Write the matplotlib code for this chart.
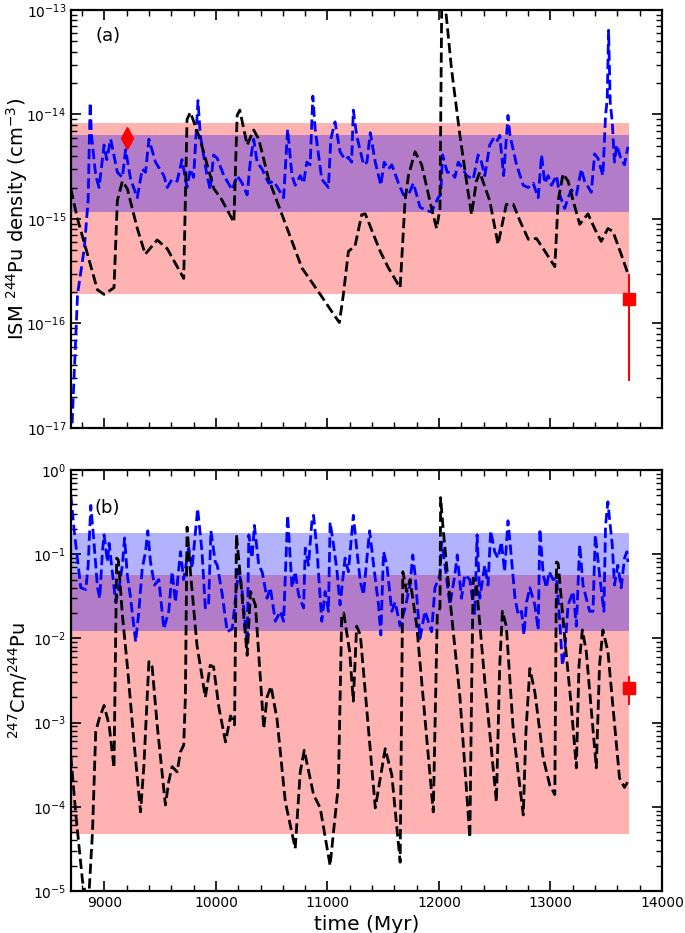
import matplotlib
matplotlib.use('Agg')
import matplotlib.pyplot as plt
from matplotlib.ticker import MultipleLocator, LogLocator, NullFormatter

# ---- panel (a): ISM 244Pu density ----
black_a_t = [8699, 8759, 8848, 8937, 8997, 9086, 9116, 9161, 9205, 9295, 9366, 9473,
             9563, 9711, 9741, 9771, 9857, 9982, 10042, 10161, 10190, 10214, 10280,
             10339, 10384, 10473, 10607, 10771, 10935, 11054, 11107, 11143, 11188,
             11247, 11307, 11339, 11473, 11547, 11652, 11696, 11726, 11786, 11845,
             11934, 11979, 12009, 12030, 12063, 12113, 12188, 12247, 12292, 12336,
             12366, 12455, 12530, 12604, 12667, 12726, 12801, 12875, 12935, 13039,
             13069, 13113, 13158, 13203, 13262, 13336, 13396, 13455, 13515, 13560,
             13634, 13694]
black_a = [1.94e-15, 1.0e-15, 4.6e-16, 2.1e-16, 1.9e-16, 2.2e-16, 1.5e-15, 2.3e-15,
           1.95e-15, 8.1e-16, 4.6e-16, 6.3e-16, 5.2e-16, 2.7e-16, 9.0e-15, 1.05e-14,
           5.8e-15, 1.94e-15, 1.6e-15, 9.3e-16, 9.8e-15, 1.1e-14, 5.1e-15, 7.1e-15,
           5.8e-15, 2.4e-15, 1.0e-15, 3.4e-16, 1.9e-16, 1.23e-16, 1.02e-16, 1.9e-16,
           4.9e-16, 5.5e-16, 1.1e-15, 1.12e-15, 4.9e-16, 3.4e-16, 2.2e-16, 1.5e-15,
           2.6e-15, 4.4e-15, 3.3e-15, 1.26e-15, 8.1e-16, 1.26e-15, 5e-13, 9.4e-14,
           2.7e-14, 6.3e-15, 2.3e-15, 1.1e-15, 2.3e-15, 2.8e-15, 1.5e-15, 5.7e-16,
           1.38e-15, 1.38e-15, 9.6e-16, 6.4e-16, 6.5e-16, 5.2e-16, 3.5e-16, 1.5e-15,
           2.7e-15, 2.3e-15, 1.5e-15, 8.9e-16, 1.12e-15, 8.1e-16, 6.1e-16, 8.1e-16,
           7.6e-16, 4.6e-16, 3.0e-16]

blue_a_t = [8705, 8759, 8819, 8854, 8872, 8884, 8922, 8952, 8997, 9021, 9056, 9116,
            9161, 9190, 9235, 9295, 9339, 9369, 9399, 9458, 9533, 9563, 9607, 9652,
            9696, 9741, 9771, 9800, 9839, 9860, 9920, 9949, 9979, 10012, 10071, 10146,
            10190, 10235, 10280, 10310, 10339, 10369, 10414, 10473, 10518, 10607,
            10643, 10682, 10711, 10756, 10786, 10815, 10845, 10869, 10890, 10949,
            11009, 11030, 11068, 11113, 11158, 11188, 11217, 11232, 11262, 11324,
            11354, 11384, 11429, 11479, 11509, 11547, 11577, 11637, 11682, 11726,
            11771, 11830, 11890, 11934, 11993, 12015, 12033, 12074, 12113, 12143,
            12173, 12217, 12247, 12307, 12351, 12381, 12411, 12455, 12485, 12515,
            12545, 12580, 12619, 12637, 12696, 12756, 12801, 12845, 12890, 12920,
            12949, 12979, 13009, 13054, 13083, 13128, 13158, 13188, 13232, 13277,
            13306, 13366, 13396, 13426, 13470, 13494, 13509, 13521, 13536, 13554,
            13574, 13595, 13634, 13664, 13694]
blue_a = [8e-18, 1.9e-16, 5.2e-16, 1.5e-15, 1.3e-14, 6.3e-15, 2.6e-15, 2.0e-15, 5.1e-15,
          3.7e-15, 5.8e-15, 2.8e-15, 2.5e-15, 4.6e-15, 2.4e-15, 1.6e-15, 3.0e-15,
          2.8e-15, 5.8e-15, 3.5e-15, 2.6e-15, 2.0e-15, 2.4e-15, 2.3e-15, 3.7e-15,
          2.0e-15, 3.0e-15, 2.5e-15, 1.36e-14, 6.3e-15, 2.6e-15, 1.9e-15, 4.1e-15,
          3.8e-15, 2.6e-15, 1.9e-15, 2.6e-15, 2.2e-15, 1.7e-15, 3.7e-15, 5.8e-15,
          3.5e-15, 3.0e-15, 2.2e-15, 2.3e-15, 1.6e-15, 7.2e-15, 2.6e-15, 2.1e-15,
          2.6e-15, 2.2e-15, 3.5e-15, 3.3e-15, 1.5e-14, 7.2e-15, 2.4e-15, 2.0e-15,
          5.8e-15, 8.5e-15, 4.4e-15, 3.7e-15, 3.9e-15, 3.5e-15, 1.1e-14, 6.3e-15,
          3.3e-15, 3.5e-15, 6.7e-15, 3.5e-15, 2.1e-15, 3.5e-15, 3.0e-15, 3.3e-15,
          2.2e-15, 1.7e-15, 1.7e-15, 2.2e-15, 1.3e-15, 1.2e-15, 1.17e-15, 1.6e-15,
          1.7e-15, 4.1e-15, 2.8e-15, 2.8e-15, 2.5e-15, 3.5e-15, 3.0e-15, 2.6e-15,
          2.4e-15, 4.1e-15, 3.5e-15, 2.6e-15, 5.1e-15, 5.8e-15, 5.4e-15, 6.3e-15,
          2.6e-15, 9.8e-15, 6.3e-15, 3.3e-15, 2.1e-15, 2.0e-15, 2.2e-15, 1.6e-15,
          4.1e-15, 2.2e-15, 2.6e-15, 2.1e-15, 2.6e-15, 1.7e-15, 1.26e-15, 1.6e-15,
          1.9e-15, 1.7e-15, 3.0e-15, 2.3e-15, 1.8e-15, 4.2e-15, 3.8e-15, 2.6e-15,
          9.8e-15, 1.4e-14, 6.4e-14, 1.3e-14, 8.5e-15, 3.5e-15, 5.1e-15, 3.7e-15,
          3.3e-15, 4.9e-15]

band_red_a = (1.93e-16, 8.2e-15)
band_blue_a = (1.17e-15, 6.3e-15)
diamond_a = (9200, 5.9e-15)
square_a = (13700, 1.73e-16, 2.8e-17, 3.0e-16)  # t, value, low, high
yticks_a = [1e-17, 1e-16, 1e-15, 1e-14, 1e-13]

# ---- panel (b): 247Cm/244Pu ----
black_b_t = [8699, 8744, 8804, 8833, 8863, 8893, 8922, 8952, 8997, 9042, 9086, 9110,
             9125, 9161, 9205, 9265, 9324, 9354, 9399, 9428, 9473, 9547, 9577, 9607,
             9652, 9682, 9711, 9726, 9741, 9771, 9830, 9905, 9949, 9979, 10027, 10086,
             10131, 10167, 10184, 10220, 10280, 10310, 10354, 10429, 10458, 10494,
             10548, 10622, 10711, 10756, 10792, 10875, 10935, 11024, 11054, 11098,
             11128, 11146, 11199, 11232, 11262, 11295, 11429, 11518, 11577, 11652,
             11676, 11711, 11741, 11801, 11949, 11985, 12009, 12015, 12039, 12083,
             12188, 12277, 12292, 12307, 12336, 12411, 12515, 12545, 12569, 12604,
             12667, 12756, 12780, 12815, 12860, 12935, 12994, 13039, 13054, 13069,
             13128, 13188, 13232, 13256, 13286, 13321, 13411, 13440, 13470, 13515,
             13619, 13664, 13694]
black_b = [4e-4, 8e-5, 1.3e-5, 9e-6, 1.0e-5, 5e-5, 7.8e-4, 1.1e-3, 1.6e-3, 9.4e-4,
           2.9e-4, 0.09, 0.085, 0.019, 4.8e-3, 5.9e-4, 8.7e-5, 3.1e-4, 5.3e-3, 4.6e-3,
           9.4e-4, 1.05e-4, 2e-4, 3e-4, 2.6e-4, 4.5e-4, 5.4e-4, 2e-3, 0.21, 0.062,
           8.3e-3, 2e-3, 4.8e-3, 4.6e-3, 1.5e-3, 5.9e-4, 1.2e-3, 9.4e-4, 0.17, 0.052,
           6.3e-3, 0.036, 0.025, 8.5e-4, 2e-3, 2.7e-3, 1.1e-3, 1.15e-4, 3.2e-5, 2.6e-4,
           4.7e-4, 1.4e-4, 9.7e-5, 2.0e-5, 5e-5, 1.8e-4, 0.019, 0.02, 7e-3, 1.8e-3,
           0.014, 0.011, 9.7e-5, 4.9e-4, 2.4e-4, 2.2e-5, 0.062, 0.036, 0.05, 0.014,
           8.7e-5, 0.019, 0.023, 0.47, 0.19, 0.047, 2e-3, 4.3e-5, 2e-3, 0.052, 0.043,
           3.1e-3, 1.15e-4, 4.8e-3, 0.021, 0.014, 7.8e-4, 8e-5, 7.8e-4, 4.4e-3, 2.3e-3,
           3.8e-4, 1.8e-4, 1.4e-4, 0.081, 0.078, 0.010, 1.5e-3, 2.9e-4, 4.8e-3, 0.0126,
           7e-3, 2.9e-4, 4.8e-3, 0.0126, 7e-3, 2.2e-4, 1.7e-4, 2e-4]

blue_b_t = [8699, 8729, 8788, 8833, 8854, 8878, 8908, 8938, 8958, 8982, 8997, 9027,
            9042, 9071, 9101, 9131, 9161, 9181, 9205, 9235, 9280, 9309, 9339, 9369,
            9389, 9413, 9449, 9488, 9533, 9577, 9607, 9637, 9682, 9711, 9756, 9786,
            9836, 9875, 9905, 9934, 9955, 9994, 10012, 10057, 10101, 10146, 10176,
            10205, 10235, 10265, 10280, 10295, 10324, 10345, 10384, 10414, 10458,
            10488, 10533, 10577, 10607, 10643, 10682, 10711, 10741, 10786, 10801,
            10830, 10860, 10875, 10905, 10949, 10979, 11009, 11024, 11054, 11083,
            11113, 11158, 11188, 11232, 11262, 11295, 11324, 11354, 11378, 11414,
            11458, 11479, 11503, 11533, 11577, 11607, 11652, 11696, 11741, 11765,
            11786, 11830, 11875, 11934, 11964, 12009, 12024, 12054, 12098, 12143,
            12164, 12202, 12232, 12277, 12321, 12342, 12366, 12411, 12440, 12464,
            12500, 12530, 12560, 12589, 12619, 12637, 12682, 12711, 12741, 12762,
            12786, 12815, 12860, 12890, 12905, 12935, 12964, 12988, 13024, 13054,
            13083, 13107, 13128, 13158, 13203, 13232, 13262, 13292, 13321, 13351,
            13381, 13402, 13440, 13479, 13494, 13515, 13530, 13554, 13574, 13604,
            13634, 13664, 13685, 13694]
blue_b = [0.5, 0.19, 0.04, 0.038, 0.074, 0.38, 0.13, 0.04, 0.03, 0.107, 0.17, 0.081,
          0.135, 0.062, 0.027, 0.04, 0.074, 0.156, 0.057, 0.03, 9.1e-3, 0.021, 0.068,
          0.107, 0.19, 0.081, 0.043, 0.05, 0.013, 0.021, 0.062, 0.027, 0.107, 0.05,
          0.118, 0.068, 0.35, 0.107, 0.023, 0.025, 0.19, 0.081, 0.074, 0.033, 0.012,
          0.013, 0.03, 0.068, 0.036, 0.014, 8.3e-3, 0.17, 0.09, 0.22, 0.074, 0.062,
          0.03, 0.04, 0.016, 0.021, 0.016, 0.29, 0.04, 0.062, 0.033, 0.023, 0.118,
          0.074, 0.24, 0.29, 0.118, 0.016, 0.036, 0.021, 0.24, 0.13, 0.068, 0.025,
          0.09, 0.062, 0.29, 0.118, 0.047, 0.033, 0.09, 0.19, 0.074, 0.025, 0.011,
          0.107, 0.074, 0.021, 0.027, 0.014, 0.023, 0.043, 0.098, 0.057, 0.01, 0.021,
          0.012, 0.04, 0.057, 0.14, 0.074, 0.025, 0.057, 0.098, 0.03, 0.057, 0.05,
          0.019, 0.17, 0.03, 0.074, 0.043, 0.19, 0.107, 0.09, 0.14, 0.062, 0.25, 0.14,
          0.03, 0.019, 0.021, 0.011, 0.027, 0.04, 0.025, 0.0126, 0.2, 0.057, 0.04,
          0.062, 0.05, 0.053, 0.016, 4.8e-3, 7e-3, 0.025, 0.036, 0.014, 0.13, 0.043,
          0.03, 0.021, 0.021, 0.17, 0.057, 0.021, 0.22, 0.42, 0.26, 0.13, 0.043,
          0.074, 0.04, 0.09, 0.107, 0.081]

band_red_b = (4.75e-5, 0.0566)
band_blue_b = (0.0122, 0.178)
square_b = (13700, 2.57e-3, 1.62e-3, 3.57e-3)
yticks_b = [1e-5, 1e-4, 1e-3, 1e-2, 1e-1, 1]

band_t = (8700, 13700)


def style_axis(ax, ylim, yticks):
    ax.set_xlim(8700, 14000)
    ax.set_yscale('log')
    ax.set_ylim(*ylim)
    ax.set_yticks(yticks)
    ax.xaxis.set_major_locator(MultipleLocator(1000))
    ax.xaxis.set_minor_locator(MultipleLocator(200))
    ax.yaxis.set_minor_locator(LogLocator(base=10, subs=range(2, 10), numticks=20))
    ax.yaxis.set_minor_formatter(NullFormatter())
    ax.tick_params(which='both', direction='in', top=True, right=True, labelsize=10)
    ax.tick_params(which='major', length=7, width=1.2)
    ax.tick_params(which='minor', length=4, width=1.0)
    for s in ax.spines.values():
        s.set_linewidth(1.6)


fig = plt.figure(figsize=(6.85, 9.33), dpi=100)
ax1 = fig.add_axes([0.1036, 0.5413, 0.8628, 0.4480])
ax2 = fig.add_axes([0.1036, 0.0450, 0.8628, 0.4512])

# panel (a)
ax1.fill_between(band_t, band_red_a[0], band_red_a[1], color='red', alpha=0.3, lw=0)
ax1.fill_between(band_t, band_blue_a[0], band_blue_a[1], color='blue', alpha=0.3, lw=0)
ax1.plot(blue_a_t, blue_a, 'b--', lw=2)
ax1.plot(black_a_t, black_a, 'k--', lw=2)
ax1.plot(*diamond_a, 'rd', ms=11)
ax1.errorbar(square_a[0], square_a[1],
             yerr=[[square_a[1] - square_a[2]], [square_a[3] - square_a[1]]],
             fmt='rs', ms=9, elinewidth=1.5, capsize=0)
style_axis(ax1, (1e-17, 1e-13), yticks_a)
ax1.tick_params(labelbottom=False)
ax1.set_ylabel(r'ISM $^{244}$Pu density (cm$^{-3}$)', fontsize=14)
ax1.yaxis.set_label_coords(-0.07, 0.5)
ax1.text(0.062, 0.938, '(a)', transform=ax1.transAxes, fontsize=13,
         ha='center', va='center')

# panel (b)
ax2.fill_between(band_t, band_red_b[0], band_red_b[1], color='red', alpha=0.3, lw=0)
ax2.fill_between(band_t, band_blue_b[0], band_blue_b[1], color='blue', alpha=0.3, lw=0)
ax2.plot(blue_b_t, blue_b, 'b--', lw=2)
ax2.plot(black_b_t, black_b, 'k--', lw=2)
ax2.errorbar(square_b[0], square_b[1],
             yerr=[[square_b[1] - square_b[2]], [square_b[3] - square_b[1]]],
             fmt='rs', ms=9, elinewidth=1.5, capsize=0)
style_axis(ax2, (1e-5, 1), yticks_b)
ax2.set_ylabel(r'$^{247}$Cm/$^{244}$Pu', fontsize=14)
ax2.yaxis.set_label_coords(-0.07, 0.5)
ax2.set_xlabel('time (Myr)', fontsize=14.5)
ax2.text(0.062, 0.91, '(b)', transform=ax2.transAxes, fontsize=13,
         ha='center', va='center')

fig.savefig('out.png', dpi=100)
